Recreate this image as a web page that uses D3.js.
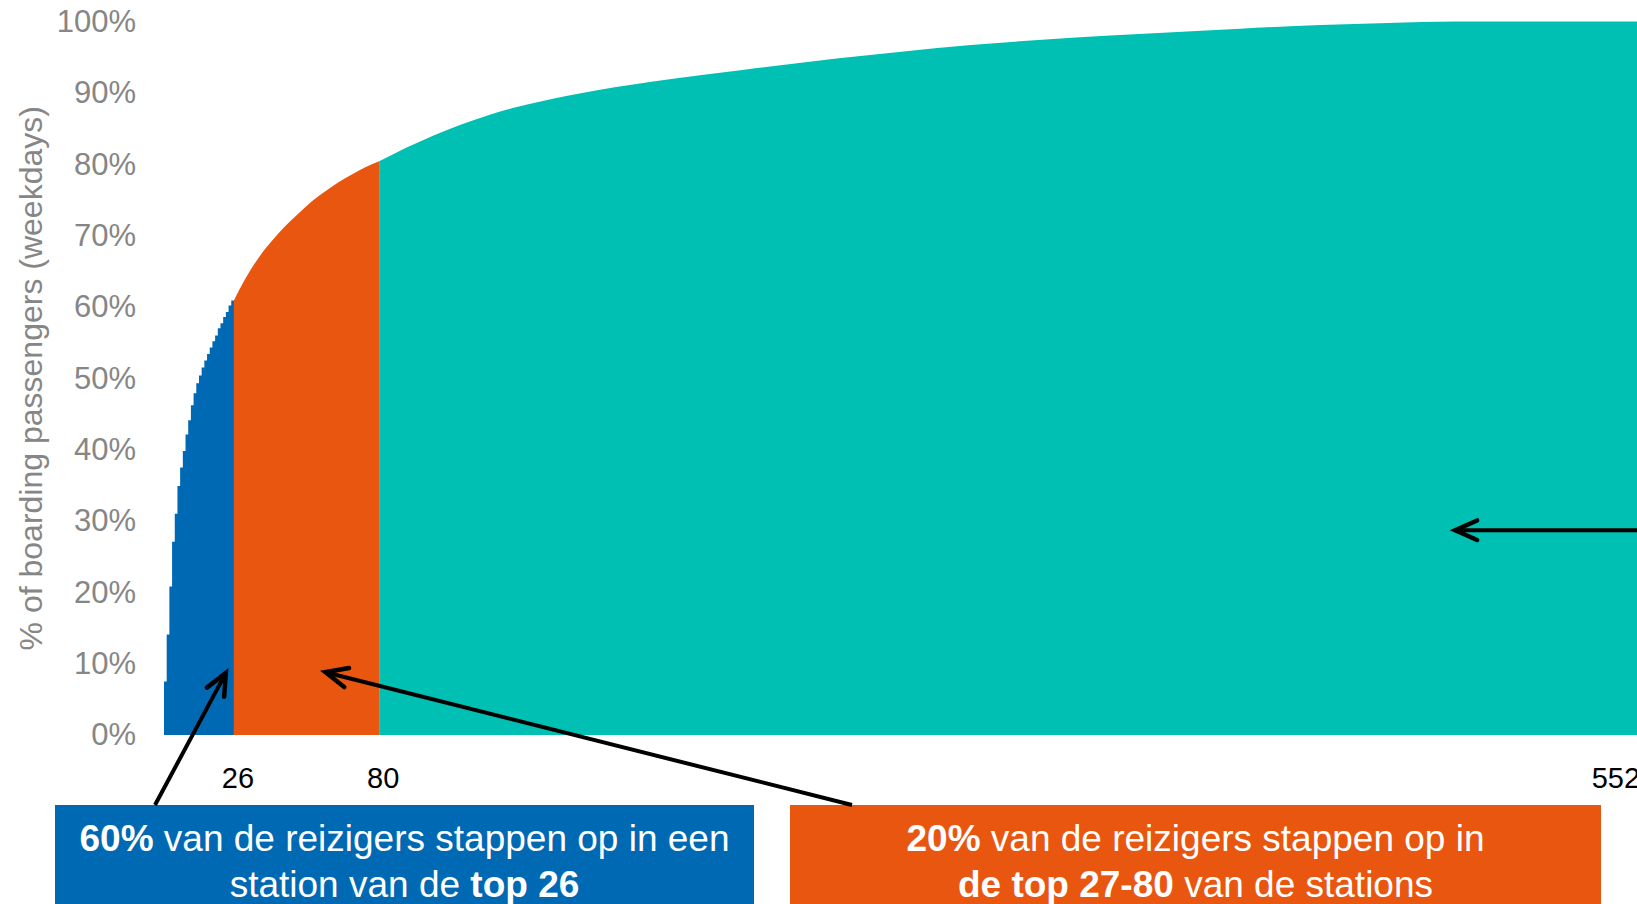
<!DOCTYPE html>
<html lang="nl">
<head>
<meta charset="utf-8">
<title>Boarding passengers per station</title>
<script src="https://cdn.jsdelivr.net/npm/d3@7"></script>
<style>
  body { margin: 0; background: #fff; }
  svg { display: block; font-family: "Liberation Sans", Arial, sans-serif; }
  .ytick text { fill: #868686; font-size: 31px; }
  .xtick { fill: #000; font-size: 29px; }
  .box-text { fill: #fff; font-size: 37px; }
</style>
</head>
<body>
<div id="chart"></div>
<script>
// cumulative % of boarding passengers, top 26 stations (one value per station)
var topStations = [7.5, 14.1, 20.8, 27.1, 31.0, 34.9, 37.5, 39.8, 42.1, 44.1, 46.2, 47.9, 49.3,
                   50.4, 51.5, 52.5, 53.4, 54.3, 55.2, 56.0, 57.0, 57.7, 58.6, 59.3, 60.2, 60.9]

// stations 27-80 (station rank, cumulative %)
var midRank  = [26, 30, 35, 40, 45, 50, 55, 60, 65, 70, 75, 80]
var midValue = [60.9, 63.8, 66.8, 69.2, 71.3, 73.1, 74.8, 76.2, 77.5, 78.6, 79.6, 80.4]

// stations 81-552
var restRank  = [80, 90, 100, 110, 120, 130, 140, 150, 160, 175, 190, 200, 215, 230, 250, 275, 300, 325, 350, 375, 400, 430, 455, 480, 552]
var restValue = [80.4, 82.3, 84.0, 85.5, 86.8, 87.9, 88.8, 89.6, 90.3, 91.2, 92.0, 92.5, 93.2, 93.9, 94.8, 95.8, 96.7, 97.4, 98.0, 98.5, 99.0, 99.5, 99.8, 100, 100]

var yTicks = [0, 10, 20, 30, 40, 50, 60, 70, 80, 90, 100]
var xLabels = [26, 80, 552]
var totalStations = 552

var colors = { top: "#0069b4", mid: "#e95610", rest: "#00bfb3" }

var w = 1637
var h = 904

var svg = d3.select("#chart").append("svg")
    .attr("width", w)
    .attr("height", h)

var xScale = d3.scaleLinear()
    .domain([0, totalStations])
    .range([164, 164 + totalStations * 2.69])

var yScale = d3.scaleLinear()
    .domain([0, 100])
    .range([735, 21.5])

var area = d3.area()
    .x(function(d) { return xScale(d.s) })
    .y0(yScale(0))
    .y1(function(d) { return yScale(d.v) })

// top 26: one step per station
var topData = topStations.map(function(v, i) { return { s: i, v: v } })
topData.push({ s: topStations.length, v: topStations[topStations.length - 1] })

var midData = midRank.map(function(s, i) { return { s: s, v: midValue[i] } })
var restData = restRank.map(function(s, i) { return { s: s, v: restValue[i] } })

svg.append("path")
    .attr("d", area.curve(d3.curveMonotoneX)(restData))
    .attr("fill", colors.rest)

svg.append("path")
    .attr("d", area.curve(d3.curveMonotoneX)(midData))
    .attr("fill", colors.mid)

svg.append("path")
    .attr("d", area.curve(d3.curveStepAfter)(topData))
    .attr("fill", colors.top)

// y axis
var yAxis = d3.axisLeft(yScale)
    .tickValues(yTicks)
    .tickSize(0)
    .tickPadding(0)
    .tickFormat(function(d) { return d + "%" })

var gy = svg.append("g")
    .attr("class", "ytick")
    .attr("transform", "translate(136,0)")
    .call(yAxis)
gy.select(".domain").remove()
gy.selectAll("text").attr("dy", "0.32em")

svg.append("text")
    .attr("transform", "translate(42," + yScale(50) + ") rotate(-90)")
    .attr("text-anchor", "middle")
    .attr("fill", "#868686")
    .attr("font-size", 32)
    .text("% of boarding passengers (weekdays)")

// x labels
svg.selectAll(".xtick")
    .data(xLabels)
    .enter()
    .append("text")
    .attr("class", "xtick")
    .attr("x", function(d) { return d === totalStations ? xScale(d) - 33 : xScale(d) + 4 })
    .attr("y", 788)
    .attr("text-anchor", "middle")
    .text(function(d) { return d })

// boxes
var boxes = [
  { x0: 55, x1: 754, fill: colors.top,
    lines: [[["60%", true], [" van de reizigers stappen op in een", false]],
            [["station van de ", false], ["top 26", true]]] },
  { x0: 790, x1: 1601, fill: colors.mid,
    lines: [[["20%", true], [" van de reizigers stappen op in", false]],
            [["de top 27-80", true], [" van de stations", false]]] }
]

boxes.forEach(function(b) {
  svg.append("rect")
      .attr("x", b.x0).attr("y", 805)
      .attr("width", b.x1 - b.x0).attr("height", 120)
      .attr("fill", b.fill)
  b.lines.forEach(function(line, li) {
    var t = svg.append("text")
        .attr("class", "box-text")
        .attr("x", (b.x0 + b.x1) / 2)
        .attr("y", 851 + li * 46)
        .attr("text-anchor", "middle")
    line.forEach(function(part) {
      t.append("tspan")
          .attr("font-weight", part[1] ? "bold" : "normal")
          .text(part[0])
    })
  })
})

// arrows: head at (station, %), tail in page pixels
var arrows = [
  { tail: [155, 805], head: [23, 8.7] },
  { tail: [852, 805], head: [60, 8.8] },
  { tail: [1660, yScale(28.7)], head: [480, 28.7] }
]

arrows.forEach(function(a) {
  var hx = xScale(a.head[0]), hy = yScale(a.head[1])
  var ang = Math.atan2(a.tail[1] - hy, a.tail[0] - hx)
  var len = 24, spread = 0.42
  svg.append("line")
      .attr("x1", a.tail[0]).attr("y1", a.tail[1])
      .attr("x2", hx).attr("y2", hy)
      .attr("stroke", "#000").attr("stroke-width", 4)
  svg.append("path")
      .attr("d", "M" + (hx + len * Math.cos(ang + spread)) + "," + (hy + len * Math.sin(ang + spread)) +
                 "L" + hx + "," + hy +
                 "L" + (hx + len * Math.cos(ang - spread)) + "," + (hy + len * Math.sin(ang - spread)))
      .attr("fill", "none")
      .attr("stroke", "#000")
      .attr("stroke-width", 4.5)
      .attr("stroke-linecap", "round")
      .attr("stroke-linejoin", "miter")
})
</script>
</body>
</html>
